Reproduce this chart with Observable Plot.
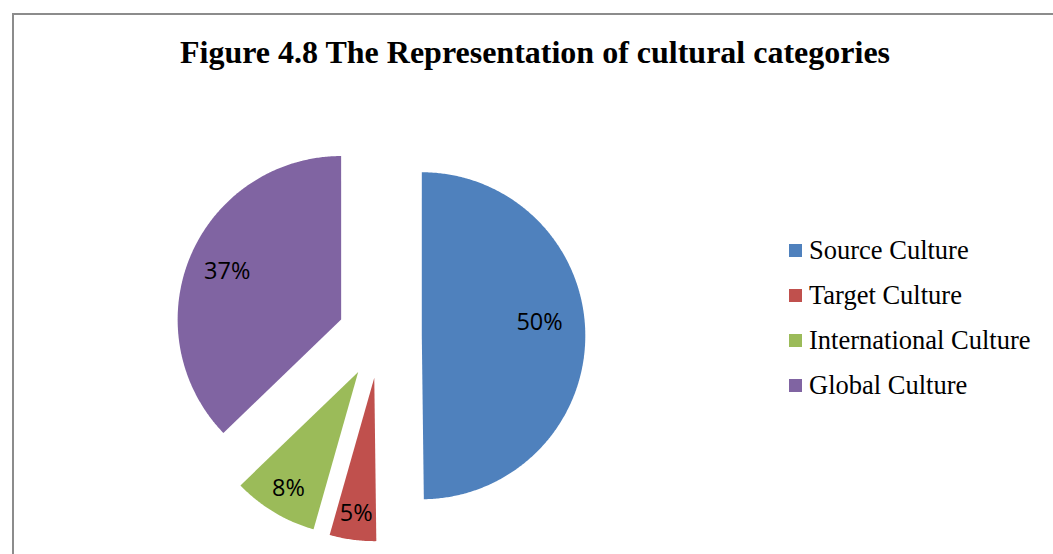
<!DOCTYPE html>
<html>
<head>
<meta charset="utf-8">
<script src="https://cdn.jsdelivr.net/npm/d3@7"></script>
<script src="https://cdn.jsdelivr.net/npm/@observablehq/plot@0.6"></script>
<style>
  html, body { margin: 0; padding: 0; background: #fff; }
  #wrap { position: relative; width: 1053px; height: 554px; overflow: hidden; background: #fff; }
  #frame { position: absolute; left: 12px; top: 13px; width: 1200px; height: 800px; border: 2px solid #8c8c8c; box-sizing: border-box; }
  #chart { position: absolute; left: 0; top: 0; }
  #title { position: absolute; left: 0; top: 36px; width: 1070px; text-align: center;
           font-family: "Liberation Serif", "Times New Roman", serif; font-weight: bold;
           font-size: 32px; line-height: 32px; color: #000; white-space: nowrap; }
  .leg { position: absolute; left: 789px; height: 27px; font-family: "Liberation Serif", "Times New Roman", serif;
         font-size: 26.5px; line-height: 26.5px; color: #000; white-space: nowrap; }
  .leg .sw { position: absolute; left: 0; top: 6.5px; width: 13px; height: 13px; }
  .leg .lb { position: absolute; left: 20px; top: 0; }
</style>
</head>
<body>
<div id="wrap">
  <div id="frame"></div>
  <div id="chart"></div>
  <div id="title">Figure 4.8 The Representation of cultural categories</div>
  <div id="legend"></div>
</div>
<script>
// ---- data ----
const names  = ["Source Culture", "Target Culture", "International Culture", "Global Culture"];
const shares = [49.8, 4.6, 8.4, 37.2];          // percent of mentions
const colors = ["#4F81BD", "#C0504D", "#9BBB59", "#8064A2"];

// ---- geometry ----
const W = 1053, H = 554;
const R = 163.5;              // pie radius in px
const CX = 379.3, CY = 335.5; // pie centre in px
const EXPLODE = 42 / R;       // explosion distance, in radius units

const rows = names.map((n, i) => ({name: n, value: shares[i]}));
const arcs = d3.pie().sort(null).value(d => d.value)(rows);

const polys = [];
const labels = [];
arcs.forEach(a => {
  const mid = (a.startAngle + a.endAngle) / 2;
  const vx = EXPLODE * Math.sin(mid), vy = EXPLODE * Math.cos(mid);
  polys.push({name: a.data.name, x: vx, y: vy});
  const steps = Math.max(8, Math.ceil((a.endAngle - a.startAngle) / (Math.PI / 360)));
  for (let k = 0; k <= steps; k++) {
    const t = a.startAngle + (a.endAngle - a.startAngle) * k / steps;
    polys.push({name: a.data.name, x: vx + Math.sin(t), y: vy + Math.cos(t)});
  }
  polys.push({name: a.data.name, x: vx, y: vy});
  const pct = Math.round(a.data.value);
  const f = 0.85 - 0.0025 * pct;
  // large slices: label sits a little above the bisector (best-fit placement)
  const la = mid - (pct >= 45 ? 0.11 : 0);
  labels.push({name: a.data.name, text: pct + "%", x: vx + f * Math.sin(la), y: vy + f * Math.cos(la)});
});

const chart = Plot.plot({
  width: W, height: H,
  margin: 0,
  style: {background: "transparent", overflow: "visible"},
  x: {domain: [-CX / R, (W - CX) / R], axis: null},
  y: {domain: [-(H - CY) / R, CY / R], axis: null},
  color: {domain: names, range: colors},
  marks: [
    Plot.line(polys, {x: "x", y: "y", z: "name", fill: "name", stroke: "none", curve: "linear"}),
    Plot.text(labels, {x: "x", y: "y", text: "text", fill: "#000", fontSize: 23.5,
                       fontFamily: "'Open Sans', 'Liberation Sans', sans-serif", textAnchor: "middle"})
  ]
});
document.getElementById("chart").appendChild(chart);

// ---- legend ----
const leg = document.getElementById("legend");
names.forEach((n, i) => {
  const item = document.createElement("div");
  item.className = "leg";
  item.style.top = (237 + 45 * i) + "px";
  const sw = document.createElement("div");
  sw.className = "sw";
  sw.style.background = colors[i];
  const lb = document.createElement("div");
  lb.className = "lb";
  lb.textContent = n;
  item.appendChild(sw); item.appendChild(lb);
  leg.appendChild(item);
});
</script>
</body>
</html>
